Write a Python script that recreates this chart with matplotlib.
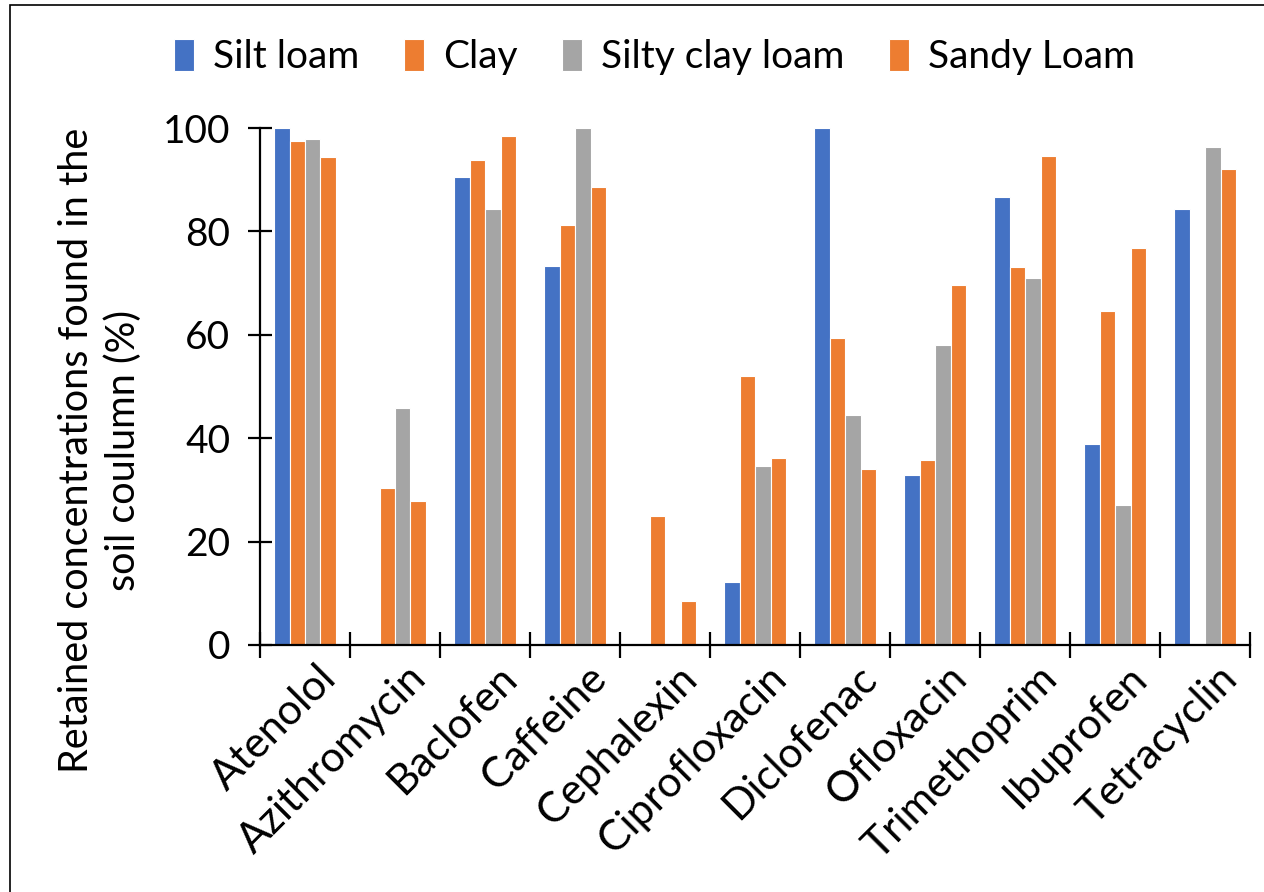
import numpy as np
import matplotlib
matplotlib.use("Agg")
import matplotlib.pyplot as plt
import matplotlib.patches as mpatches
import matplotlib.transforms as mtransforms

plt.rcParams['font.family'] = ['Lato', 'DejaVu Sans']

compounds = ['Atenolol', 'Azithromycin', 'Baclofen', 'Caffeine', 'Cephalexin',
             'Ciprofloxacin', 'Diclofenac', 'Ofloxacin', 'Trimethoprim',
             'Ibuprofen', 'Tetracyclin']

silt_loam = [100, 0, 90.5, 73.3, 0, 12.2, 100, 32.9, 86.7, 38.8, 84.3]
clay = [97.5, 30.4, 93.9, 81.2, 24.9, 52.1, 59.4, 35.8, 73.1, 64.6, 0]
silty_clay_loam = [97.8, 45.8, 84.3, 100, 0, 34.6, 44.4, 58.0, 71.0, 27.1, 96.3]
sandy_loam = [94.3, 27.9, 98.4, 88.6, 8.4, 36.2, 34.1, 69.6, 94.6, 76.8, 92.1]

soils = ['Silt loam', 'Clay', 'Silty clay loam', 'Sandy Loam']
colors = ['#4472C4', '#ED7D31', '#A5A5A5', '#ED7D31']

fig = plt.figure(figsize=(12.64, 8.92), dpi=100)
ax = fig.add_axes([0.2057, 0.277, 0.7833, 0.5795])

x = np.arange(len(compounds))
w = 0.172
series = [silt_loam, clay, silty_clay_loam, sandy_loam]
for i, (vals, name, c) in enumerate(zip(series, soils, colors)):
    ax.bar(x + (i - 1.5) * w, vals, w, color=c, edgecolor='white',
           linewidth=0.8, label=name)

ax.set_xlim(-0.5, len(compounds) - 0.5)
ax.set_ylim(0, 100)
ax.set_yticks([0, 20, 40, 60, 80, 100])

for s in ['top', 'right']:
    ax.spines[s].set_visible(False)
for s in ['left', 'bottom']:
    ax.spines[s].set_linewidth(1.6)

ax.tick_params(axis='y', direction='inout', length=17, width=1.6,
               labelsize=28, pad=13)
ax.set_xticks(x)
ax.set_xticks(np.arange(-0.5, len(compounds)), minor=True)
ax.tick_params(axis='x', which='major', length=0, labelsize=30.5, pad=10)
ax.tick_params(axis='x', which='minor', direction='inout', length=19, width=1.6)
ax.set_xticklabels(compounds, rotation=45, ha='right', va='top',
                   rotation_mode='anchor')
shift = mtransforms.ScaledTranslation(12 / 100, 0, fig.dpi_scale_trans)
for lab in ax.get_xticklabels():
    lab.set_transform(lab.get_transform() + shift)

fig.text(0.079, 0.4955,
         'Retained concentrations found in the\nsoil coulumn (%)',
         rotation=90, ha='center', va='center', multialignment='center',
         fontsize=28.5, linespacing=1.3)

ax.legend(loc='center', bbox_to_anchor=(0.518, 0.936),
          bbox_transform=fig.transFigure, ncol=4, frameon=False,
          fontsize=28, handlelength=0.5, handleheight=0.9,
          handletextpad=0.5, columnspacing=1.15)

# thin frame round the chart area
fig.patches.append(mpatches.Rectangle((0.0079, -0.05), 1.05, 1.0444,
                                      transform=fig.transFigure,
                                      fill=False, edgecolor='black',
                                      linewidth=1.2))

fig.savefig('out.png', dpi=100)
